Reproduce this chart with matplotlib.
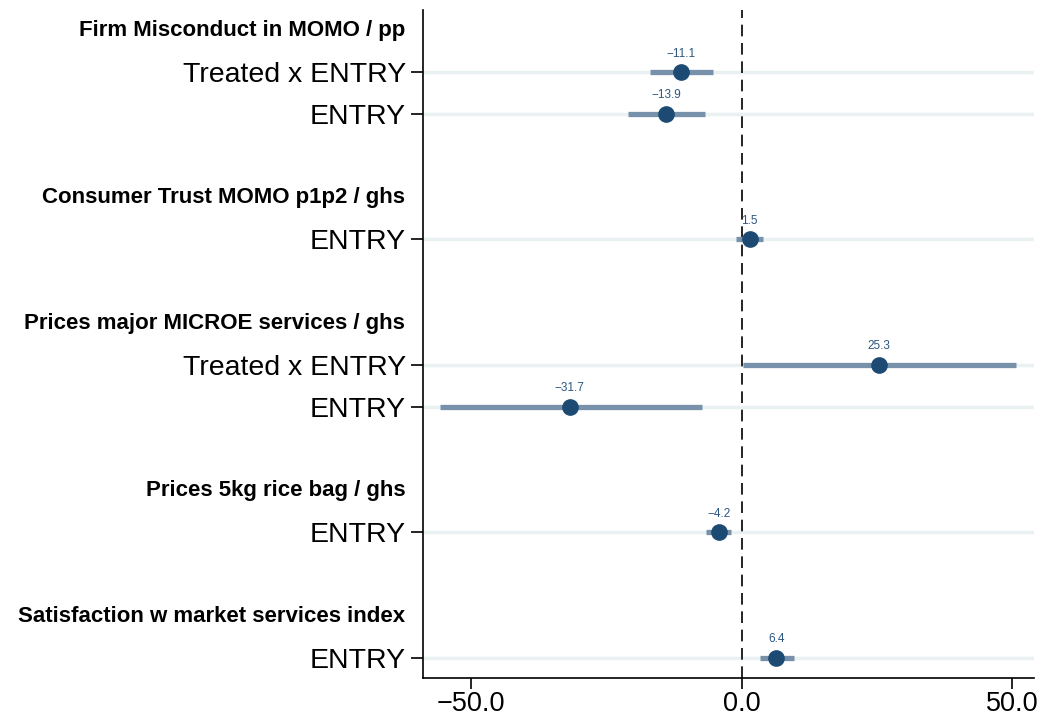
import matplotlib.pyplot as plt
import numpy as np

plt.rcParams['font.family'] = ['Liberation Sans', 'DejaVu Sans']

headers = ['Firm Misconduct in MOMO / pp',
           'Consumer Trust MOMO p1p2 / ghs',
           'Prices major MICROE services / ghs',
           'Prices 5kg rice bag / ghs',
           'Satisfaction w market services index']
labels = ['Treated x ENTRY', 'ENTRY', 'ENTRY', 'Treated x ENTRY', 'ENTRY', 'ENTRY', 'ENTRY']
group = [0, 0, 1, 2, 2, 3, 4]
coef = [-11.1, -13.9, 1.5, 25.3, -31.7, -4.2, 6.4]
ci_lo = [-16.9, -21.0, -1.1, 0.2, -55.6, -6.6, 3.4]
ci_hi = [-5.3, -6.8, 4.0, 50.6, -7.3, -1.9, 9.7]

# positions: header row, then its coefficients, then one blank row
header_pos = []
row_pos = []
pos = 0
for g in range(len(headers)):
    header_pos.append(pos)
    pos += 1
    for i, gi in enumerate(group):
        if gi == g:
            row_pos.append(pos)
            pos += 1
    pos += 1

fig = plt.figure(figsize=(10.42, 7.22), dpi=100)
ax = fig.add_axes([0.4055, 0.061, 0.5868, 0.925])

for y in row_pos:
    ax.axhline(y, color='#eaf1f2', lw=2.5, zorder=0)

ax.axvline(0, color='black', lw=1.2, dashes=(7, 4), zorder=1)

for y, c, lo, hi in zip(row_pos, coef, ci_lo, ci_hi):
    ax.plot([lo, hi], [y, y], color='#7891aa', lw=3.8, solid_capstyle='butt', zorder=2)
    ax.plot(c, y, 'o', color='#1c4a72', ms=11, zorder=3)
    ax.annotate(f'{c:.1f}'.replace('-', '\u2212'), (c, y), xytext=(0, 9),
                textcoords='offset points', ha='center', va='bottom',
                fontsize=8.5, color='#2b5680')

ax.set_xlim(-58.9, 54.0)
ax.set_ylim(15.48, -0.48)
ax.set_xticks([-50, 0, 50])
ax.set_xticklabels(['\u221250.0', '0.0', '50.0'], fontsize=19.5)
ax.set_yticks(row_pos)
ax.set_yticklabels(labels, fontsize=20.5)
ax.tick_params(axis='y', length=9, width=1.2, pad=3)
ax.tick_params(axis='x', length=8, width=1.2, pad=1.5)

for h, y in zip(headers, header_pos):
    ax.annotate(h, (0, y), xycoords=('axes fraction', 'data'), xytext=(-12.5, 0),
                textcoords='offset points', ha='right', va='center',
                fontsize=16, fontweight='bold')

ax.spines['top'].set_visible(False)
ax.spines['right'].set_visible(False)
ax.spines['left'].set_linewidth(1.2)
ax.spines['bottom'].set_linewidth(1.2)

fig.savefig('out.png', dpi=100)
